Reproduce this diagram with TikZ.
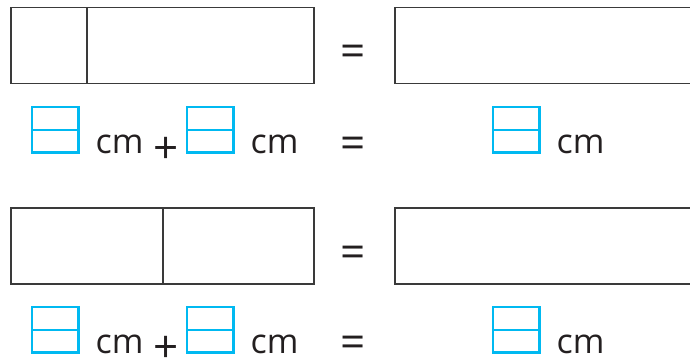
\documentclass[tikz,border=0pt]{standalone}
\usepackage{fontspec}
\setmainfont{Open Sans}
\definecolor{boxcyan}{HTML}{00B9F1}
\definecolor{linegray}{HTML}{3A3A3A}
\definecolor{txt}{HTML}{231F20}
\begin{document}
\begin{tikzpicture}[x=1pt,y=-1pt,
  barbox/.style={draw=linegray,line width=1.4pt},
  fracbox/.style={draw=boxcyan,line width=2.6pt},
  lbl/.style={inner sep=0pt,text=txt,font=\fontsize{34}{40}\selectfont},
  eqs/.style={inner sep=0pt,text=txt,font=\fontsize{44}{48}\selectfont}]
\useasboundingbox (0,0) rectangle (690,358);
\clip (0,0) rectangle (690,358);
% ---------- row 1 ----------
\draw[barbox] (11,7.5) rectangle (314,83.5);
\draw[barbox] (87,7.5) -- (87,83.5);
\draw[barbox] (395,7.5) rectangle (698,83.5);
\node[eqs] (eqA) at (353.5,56) {=};
% ---------- row 2 ----------
\draw[fracbox] (32,107) rectangle (78.5,152.5);
\draw[fracbox] (32,130) -- (78.5,130);
\node[lbl,anchor=base west] (cmA1) at (95.5,154) {cm};
\node[eqs,anchor=center] (plA) at (166,150) {+};
\draw[fracbox] (187,107) rectangle (233.5,152.5);
\draw[fracbox] (187,130) -- (233.5,130);
\node[lbl,anchor=base west] (cmA2) at (250.5,154) {cm};
\node[eqs] (eqB) at (353.5,147.5) {=};
\draw[fracbox] (493,107) rectangle (539.5,152.5);
\draw[fracbox] (493,130) -- (539.5,130);
\node[lbl,anchor=base west] (cmA3) at (556.5,154) {cm};
% ---------- row 3 ----------
\draw[barbox] (11,208) rectangle (314,284);
\draw[barbox] (163,208) -- (163,284);
\draw[barbox] (395,208) rectangle (698,284);
\node[eqs] (eqC) at (353.5,257) {=};
% ---------- row 4 ----------
\draw[fracbox] (32,307) rectangle (78.5,352.5);
\draw[fracbox] (32,330) -- (78.5,330);
\node[lbl,anchor=base west] (cmB1) at (95.5,353) {cm};
\node[eqs,anchor=center] (plB) at (166,349) {+};
\draw[fracbox] (187,307) rectangle (233.5,352.5);
\draw[fracbox] (187,330) -- (233.5,330);
\node[lbl,anchor=base west] (cmB2) at (250.5,353) {cm};
\node[eqs] (eqD) at (353.5,346.5) {=};
\draw[fracbox] (493,307) rectangle (539.5,352.5);
\draw[fracbox] (493,330) -- (539.5,330);
\node[lbl,anchor=base west] (cmB3) at (556.5,353) {cm};
\end{tikzpicture}
\end{document}
